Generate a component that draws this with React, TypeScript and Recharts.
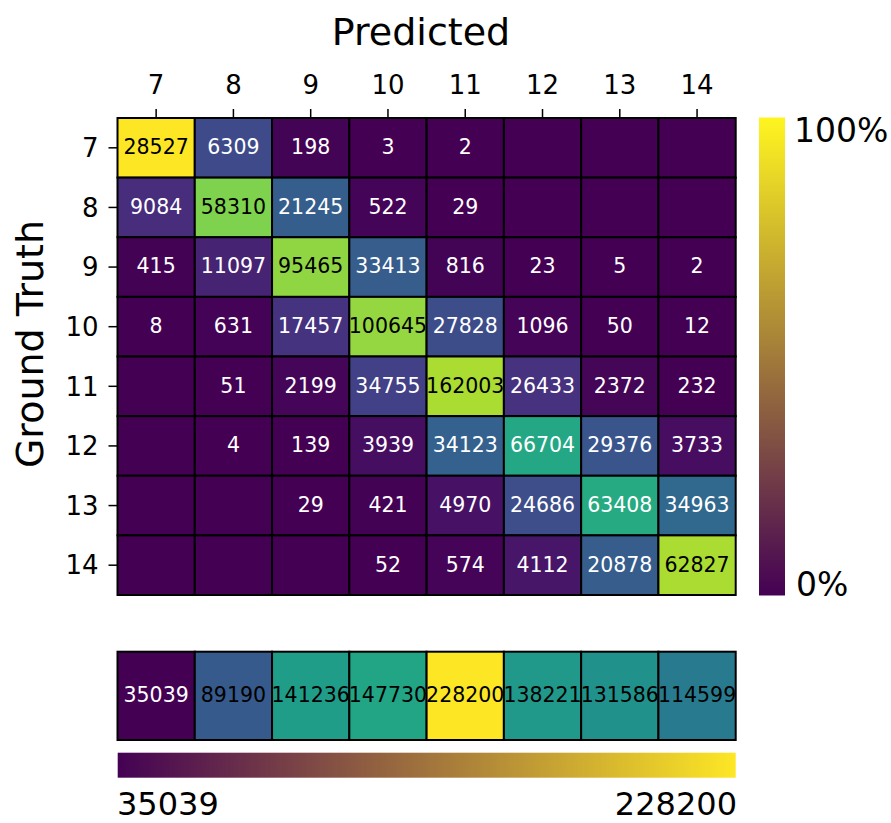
import React from 'react';
import { ScatterChart, Scatter, XAxis, YAxis } from 'recharts';

// class labels (predicted = columns, ground truth = rows)
const classes = [7, 8, 9, 10, 11, 12, 13, 14];

// confusion counts, one array per ground-truth row (0 = empty cell)
const row7 = [28527, 6309, 198, 3, 2, 0, 0, 0];
const row8 = [9084, 58310, 21245, 522, 29, 0, 0, 0];
const row9 = [415, 11097, 95465, 33413, 816, 23, 5, 2];
const row10 = [8, 631, 17457, 100645, 27828, 1096, 50, 12];
const row11 = [0, 51, 2199, 34755, 162003, 26433, 2372, 232];
const row12 = [0, 4, 139, 3939, 34123, 66704, 29376, 3733];
const row13 = [0, 0, 29, 421, 4970, 24686, 63408, 34963];
const row14 = [0, 0, 0, 52, 574, 4112, 20878, 62827];
const matrix = [row7, row8, row9, row10, row11, row12, row13, row14];

// ground-truth totals shown in the bottom strip
const totals = [35039, 89190, 141236, 147730, 228200, 138221, 131586, 114599];

const FONT = '"DejaVu Sans", sans-serif';

// layout of the plot areas
const PLOT_LEFT = 117.5;
const PLOT_RIGHT = 735.7;
const PLOT_TOP = 118;
const PLOT_BOTTOM = 595;
const STRIP_TOP = 651.7;
const STRIP_BOTTOM = 740;
const CELL_W = (PLOT_RIGHT - PLOT_LEFT) / 8;
const CELL_H = (PLOT_BOTTOM - PLOT_TOP) / 8;
const STRIP_H = STRIP_BOTTOM - STRIP_TOP;

const VIRIDIS = [
  '#440154', '#48186a', '#472d7b', '#424086', '#3b528b', '#33638d',
  '#2c728e', '#26828e', '#21918c', '#1fa088', '#28ae80', '#3fbc73',
  '#5ec962', '#84d44b', '#addc30', '#d8e219', '#fde725',
];

const hexToRgb = (h: string) => [
  parseInt(h.slice(1, 3), 16),
  parseInt(h.slice(3, 5), 16),
  parseInt(h.slice(5, 7), 16),
];

const viridis = (t: number) => {
  const v = Math.max(0, Math.min(1, t)) * (VIRIDIS.length - 1);
  const i = Math.min(Math.floor(v), VIRIDIS.length - 2);
  const f = v - i;
  const a = hexToRgb(VIRIDIS[i]);
  const b = hexToRgb(VIRIDIS[i + 1]);
  const c = a.map((x, k) => Math.round(x + (b[k] - x) * f));
  return `rgb(${c[0]},${c[1]},${c[2]})`;
};

// row-normalised ratios, colour scaled to the largest ratio
const rowSums = matrix.map(r => r.reduce((s, v) => s + v, 0));
const ratios = matrix.map((r, i) => r.map(v => v / rowSums[i]));
const maxRatio = Math.max(...ratios.flat());

const cells = matrix.flatMap((r, i) =>
  r.map((v, j) => ({
    x: classes[j],
    y: classes[i],
    value: v,
    t: ratios[i][j] / maxRatio,
  }))
);

const minTotal = Math.min(...totals);
const maxTotal = Math.max(...totals);
const stripCells = totals.map((v, j) => ({
  x: classes[j],
  y: 0.5,
  value: v,
  t: (v - minTotal) / (maxTotal - minTotal),
}));

const MatrixCell = (props: any) => {
  const { cx, cy, payload } = props;
  return (
    <g>
      <rect
        x={cx - CELL_W / 2}
        y={cy - CELL_H / 2}
        width={CELL_W}
        height={CELL_H}
        fill={viridis(payload.t)}
        stroke="#000"
        strokeWidth={2}
      />
      {payload.value > 0 && (
        <text
          x={cx}
          y={cy + 6.4}
          textAnchor="middle"
          fontSize={20.5}
          fontFamily={FONT}
          fill={payload.t > 0.7 ? '#000' : '#fff'}
        >
          {payload.value}
        </text>
      )}
    </g>
  );
};

const StripCell = (props: any) => {
  const { cx, cy, payload } = props;
  return (
    <g>
      <rect
        x={cx - CELL_W / 2}
        y={cy - STRIP_H / 2}
        width={CELL_W}
        height={STRIP_H}
        fill={viridis(payload.t)}
        stroke="#000"
        strokeWidth={2}
      />
      <text
        x={cx}
        y={STRIP_TOP + 50}
        textAnchor="middle"
        fontSize={20.5}
        fontFamily={FONT}
        fill={payload.t > 0.1 ? '#000' : '#fff'}
      >
        {payload.value}
      </text>
    </g>
  );
};

const App = () => {
  const abs: React.CSSProperties = { position: 'absolute', left: 0, top: 0 };
  return (
    <div style={{ position: 'absolute', left: 0, top: 0, width: 891, height: 823, background: '#fff', fontFamily: FONT }}>
      <div style={abs}>
        <ScatterChart
          width={891}
          height={823}
          margin={{ top: PLOT_TOP - 30, right: 891 - PLOT_RIGHT, bottom: 823 - PLOT_BOTTOM, left: PLOT_LEFT - 40 }}
        >
          <XAxis
            type="number"
            dataKey="x"
            orientation="top"
            domain={[6.5, 14.5]}
            ticks={classes}
            height={30}
            axisLine={false}
            tickSize={9}
            tickMargin={15}
            tickLine={{ stroke: '#000', strokeWidth: 1.5 }}
            tick={{ fill: '#000', fontSize: 26, fontFamily: FONT }}
            interval={0}
          />
          <YAxis
            type="number"
            dataKey="y"
            domain={[6.5, 14.5]}
            reversed
            ticks={classes}
            width={40}
            axisLine={false}
            tickSize={9}
            tickMargin={10}
            tickLine={{ stroke: '#000', strokeWidth: 1.5 }}
            tick={{ fill: '#000', fontSize: 26, fontFamily: FONT }}
            interval={0}
          />
          <Scatter data={cells} shape={MatrixCell} isAnimationActive={false} />
        </ScatterChart>
      </div>
      <div style={abs}>
        <ScatterChart
          width={891}
          height={823}
          margin={{ top: STRIP_TOP, right: 891 - PLOT_RIGHT, bottom: 823 - STRIP_BOTTOM, left: PLOT_LEFT }}
        >
          <XAxis type="number" dataKey="x" domain={[6.5, 14.5]} hide />
          <YAxis type="number" dataKey="y" domain={[0, 1]} hide />
          <Scatter data={stripCells} shape={StripCell} isAnimationActive={false} />
        </ScatterChart>
      </div>
      <svg style={{ ...abs, pointerEvents: 'none' }} width={891} height={823}>
        <defs>
          <linearGradient id="cbV" x1="0" y1="1" x2="0" y2="0">
            <stop offset="0" stopColor="#440154" />
            <stop offset="1" stopColor="#fff520" />
          </linearGradient>
          <linearGradient id="cbH" x1="0" y1="0" x2="1" y2="0">
            <stop offset="0" stopColor="#440154" />
            <stop offset="1" stopColor="#fde725" />
          </linearGradient>
        </defs>
        <text x={421} y={45} textAnchor="middle" fontSize={38} fontFamily={FONT} fill="#000">
          Predicted
        </text>
        <text
          x={43}
          y={344}
          textAnchor="middle"
          fontSize={38}
          fontFamily={FONT}
          fill="#000"
          transform="rotate(-90 43 344)"
        >
          Ground Truth
        </text>
        <rect x={759} y={117.5} width={26} height={478} fill="url(#cbV)" />
        <text x={794} y={141.5} fontSize={33} fontFamily={FONT} fill="#000">100%</text>
        <text x={796} y={595.5} fontSize={33} fontFamily={FONT} fill="#000">0%</text>
        <rect x={117.7} y={752.7} width={PLOT_RIGHT - 117.7} height={25} fill="url(#cbH)" />
        <text x={117} y={815} fontSize={32} fontFamily={FONT} fill="#000">35039</text>
        <text x={737} y={815} textAnchor="end" fontSize={32} fontFamily={FONT} fill="#000">228200</text>
      </svg>
    </div>
  );
};

export default App;
